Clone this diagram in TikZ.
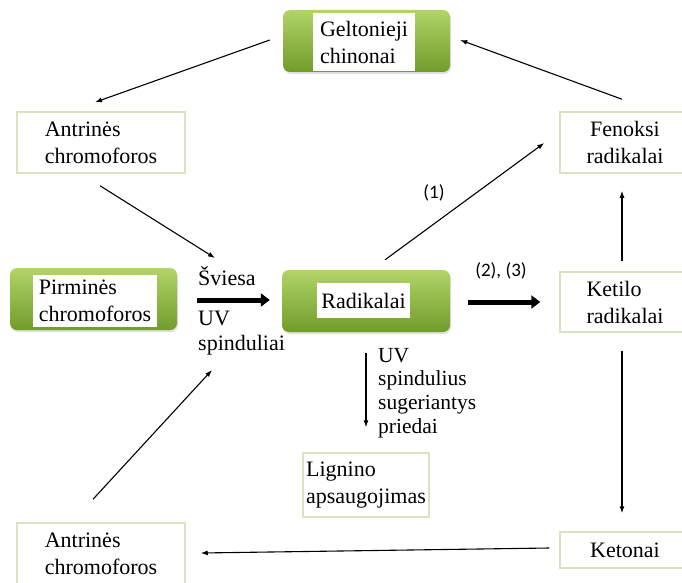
\documentclass[tikz,border=0pt]{standalone}
\usepackage{fontspec}
\setmainfont{LiberationSerif}[Extension=.ttf, UprightFont=*-Regular, BoldFont=*-Bold]
\newfontfamily\serf{LiberationSerif}[Extension=.ttf, UprightFont=*-Regular]
\newfontfamily\labfont{Carlito}
\usetikzlibrary{arrows.meta,calc,shadows}
\definecolor{gtop}{RGB}{178,212,104}
\definecolor{gbot}{RGB}{112,156,42}
\definecolor{lgreen}{RGB}{214,228,192}
\begin{document}
\begin{tikzpicture}[x=1pt,y=-1pt,
  greenbox/.style={rounded corners=7pt, top color=gtop, bottom color=gbot,
    drop shadow={opacity=0.25, shadow xshift=1pt, shadow yshift=-2pt}, inner sep=0pt},
  innertext/.style={fill=white, inner sep=0pt, align=left, font=\serf\fontsize{22}{27}\selectfont},
  whitebox/.style={draw=lgreen, line width=1.5pt, fill=white, inner sep=0pt,
    font=\serf\fontsize{22}{27}\selectfont},
  arr/.style={-{Latex[length=7pt,width=5pt]}, line width=1.1pt},
  thickarr/.style={-{Triangle[length=9pt,width=13pt]}, line width=5pt},
  lab/.style={font=\labfont\fontsize{19}{22}\selectfont, inner sep=0pt},
  txt/.style={inner sep=0pt, align=left}]
\useasboundingbox (0,0) rectangle (682,583);
\clip (0,0) rectangle (682,583);

% green boxes
\node[greenbox, minimum width=167pt, minimum height=62pt] (gelt) at (366.5,41) {};
\node[innertext, minimum width=102pt, minimum height=58pt] (geltT) at (364,42) {Geltonieji\\chinonai};
\node[greenbox, minimum width=167pt, minimum height=62pt] (pirm) at (93.5,299) {};
\node[innertext, minimum width=124pt, minimum height=52pt] (pirmT) at (95,301) {Pirminės\\chromoforos};
\node[greenbox, minimum width=168pt, minimum height=62pt] (rad) at (366,301) {};
\node[innertext, minimum width=93pt, minimum height=35pt] (radT) at (363.5,300.5) {Radikalai};

% white boxes
\node[whitebox, align=left, minimum width=168pt, minimum height=61pt] (ant1) at (101,142.5) {Antrinės\\chromoforos};
\node[whitebox, align=center, minimum width=130pt, minimum height=61pt] (fen) at (625,142.5) {Fenoksi\\radikalai};
\node[whitebox, align=left, minimum width=130pt, minimum height=60pt] (ket) at (625,302) {Ketilo\\radikalai};
\node[whitebox, align=left, minimum width=130pt, minimum height=36pt] (keto) at (625,550) {Ketonai};
\node[whitebox, align=left, minimum width=168pt, minimum height=61pt] (ant2) at (101,553.5) {Antrinės\\chromoforos};
\node[whitebox, align=left, minimum width=126pt, minimum height=64pt] (lig) at (366,485) {Lignino\\apsaugojimas};

% labels
\node[txt, anchor=base west, font=\serf\fontsize{22}{25}\selectfont] (sv) at (198,285) {Šviesa};
\node[txt, anchor=north west, font=\serf\fontsize{22}{25}\selectfont] (uvs) at (198,310.5) {UV\\spinduliai};
\node[txt, anchor=north west, font=\serf\fontsize{21.5}{23.7}\selectfont] (uvp) at (378,348) {UV\\spindulius\\sugeriantys\\priedai};
\node[lab] (l1) at (434,193) {(1)};
\node[lab] (l23) at (501,271) {(2), (3)};

\coordinate (lightin) at (215,258);
\coordinate (uvin) at (212,370);

% connectors
\draw[arr] ($(gelt.west)+(-13,-1)$) -- ($(ant1.north)+(-6,-9)$);
\draw[arr] ($(fen.north)+(-3,-12)$) -- ($(gelt.east)+(10,-1)$);
\draw[arr] ($(ant1.south)+(-1,12)$) -- (lightin);
\draw[thickarr] ($(pirm.east)+(20,1)$) -- ($(rad.west)+(-12,-1)$);
\draw[thickarr] ($(rad.east)+(18,1)$) -- ($(ket.west)+(-19,0)$);
\draw[arr] ($(rad.north)+(19,-10)$) -- ($(fen.west)+(-15,0.5)$);
\draw[arr] ($(ket.north)+(-3,-10)$) -- ($(fen.south)+(-3,17)$);
\draw[arr] ($(ket.south)+(-3,18)$) -- ($(keto.north)+(-3,-18)$);
\draw[arr] ($(keto.west)+(-10,-2)$) -- ($(ant2.east)+(15,-0.5)$);
\draw[arr] ($(ant2.north)+(-8,-23)$) -- (uvin);
\draw[arr] ($(rad.south)+(0,21)$) -- ($(lig.north)+(0,-25)$);
\end{tikzpicture}
\end{document}
